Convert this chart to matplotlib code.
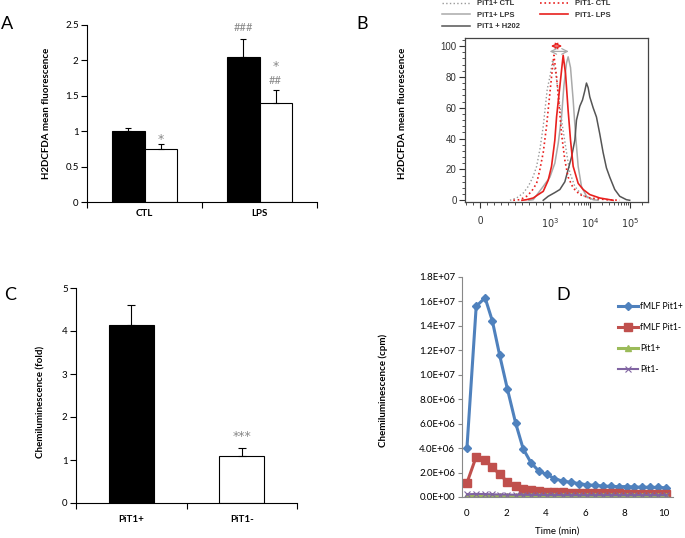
import numpy as np
import matplotlib.pyplot as plt
from matplotlib.ticker import FixedLocator, MultipleLocator, FuncFormatter

plt.rcParams['font.family'] = ['Lato', 'DejaVu Sans']

# ---- panel A: H2DCFDA mean fluorescence ----
a_groups = ['CTL', 'LPS']
a_pos = [1.0, 2.05]
a_pos_err = [0.05, 0.25]
a_neg = [0.75, 1.4]
a_neg_err = [0.07, 0.18]

# ---- panel B: flow histograms (intensity, % of max) ----
b_ctl_pos_x = [429, 524, 619, 690, 762, 810, 857, 905, 962, 1000, 1170, 1410, 1710, 2070, 2610, 3160, 4220, 6190, 10000, 17783]
b_ctl_pos_y = [0, 1.5, 4.7, 9, 15.5, 22, 33, 48, 72, 80, 91, 82, 65, 48, 31, 18, 9, 3.7, 0.9, 0]
b_lps_pos_x = [700, 762, 905, 1000, 1330, 1620, 1960, 2240, 2610, 2870, 3290, 3830, 4380, 5110, 6190, 8250, 12115, 16000]
b_lps_pos_y = [0, 0.4, 9, 15, 24, 37, 54, 74, 89, 93, 86, 65, 43, 22, 9, 2.6, 0.4, 0]
b_h2o2_x = [905, 976, 1330, 1780, 2370, 2870, 3480, 4220, 4640, 5620, 6560, 7500, 8250, 9090, 10000, 12115, 14678, 17783, 21544, 26102, 31623, 42170, 56234, 82540, 100000]
b_h2o2_y = [0, 2.6, 5, 7, 12, 20, 28, 39, 52, 61, 65, 71, 76, 73, 67, 60, 54, 43, 31, 21, 15, 7, 2.6, 0.4, 0]
b_ctl_neg_x = [476, 571, 667, 738, 810, 857, 905, 952, 990, 1100, 1260, 1470, 1710, 1960, 2370, 2870, 3830, 5620, 10000, 26102, 56234]
b_ctl_neg_y = [0, 0.4, 2.6, 5.8, 11, 20, 31, 48, 65, 80, 94, 80, 61, 43, 26, 15, 8, 3.7, 1.5, 0.4, 0]
b_lps_neg_x = [600, 667, 762, 833, 905, 976, 1100, 1330, 1470, 1780, 2150, 2470, 2870, 3290, 3830, 5110, 6810, 10000, 17783, 38312]
b_lps_neg_y = [0, 0.4, 1.5, 3.7, 5.8, 13, 22, 39, 54, 74, 94, 82, 58, 39, 22, 11, 7, 3.7, 1.5, 0]

# ---- panel C: chemiluminescence fold ----
c_groups = ['PiT1+', 'PiT1-']
c_vals = [4.15, 1.1]
c_err = [0.45, 0.18]

# ---- panel D: chemiluminescence kinetics (cpm, millions) ----
d_time = [0, 0.47, 0.92, 1.29, 1.66, 2.05, 2.47, 2.85, 3.25, 3.66, 4.05, 4.44, 4.85,
          5.27, 5.68, 6.07, 6.49, 6.88, 7.29, 7.69, 8.10, 8.49, 8.90, 9.29, 9.71, 10.10]
d_fmlf_pos = [4.0, 15.6, 16.3, 14.4, 11.6, 8.85, 6.05, 3.95, 2.8, 2.1, 1.85, 1.5, 1.3,
              1.2, 1.1, 1.0, 0.95, 0.9, 0.87, 0.85, 0.85, 0.82, 0.8, 0.8, 0.78, 0.75]
d_fmlf_neg = [1.15, 3.3, 3.0, 2.45, 1.85, 1.25, 0.88, 0.68, 0.55, 0.48, 0.43, 0.4, 0.38,
              0.36, 0.35, 0.33, 0.32, 0.31, 0.3, 0.29, 0.28, 0.28, 0.27, 0.26, 0.26, 0.25]
d_pos = [0.05, 0.06, 0.05, 0.05, 0.06, 0.05, 0.05, 0.05, 0.06, 0.05, 0.05, 0.05, 0.05,
         0.05, 0.05, 0.06, 0.05, 0.05, 0.05, 0.05, 0.05, 0.05, 0.05, 0.05, 0.05, 0.05]
d_neg = [0.22, 0.25, 0.24, 0.22, 0.2, 0.2, 0.18, 0.18, 0.17, 0.17, 0.16, 0.16, 0.15,
         0.15, 0.15, 0.15, 0.15, 0.15, 0.15, 0.15, 0.15, 0.15, 0.15, 0.15, 0.15, 0.15]

W, H = 685, 538
fig = plt.figure(figsize=(W / 100, H / 100), dpi=100)


def box(l, t, r, b):
    return [l / W, 1 - b / H, (r - l) / W, (b - t) / H]


def bar_style(ax, groups, pad):
    ax.spines['top'].set_visible(False)
    ax.spines['right'].set_visible(False)
    for s in ['left', 'bottom']:
        ax.spines[s].set_linewidth(0.8)
    ax.set_xlim(-0.5, 1.5)
    ax.set_xticks([0, 1])
    ax.set_xticklabels(groups, fontweight='bold')
    ax.xaxis.set_minor_locator(FixedLocator([-0.5, 0.5, 1.5]))
    ax.tick_params(axis='x', which='major', length=0, pad=pad, labelsize=7)
    ax.tick_params(axis='x', which='minor', length=4, width=0.8, direction='out')
    ax.tick_params(axis='y', length=4, width=0.8, labelsize=7, pad=2)


# ---- A ----
axA = fig.add_axes(box(87, 25, 317, 202))
x = np.arange(len(a_groups))
w = 0.28
ek = dict(lw=0.8, capthick=0.8, ecolor='black')
axA.bar(x - w / 2, a_pos, w, color='black', edgecolor='black', lw=0.8,
        yerr=[[0] * 2, a_pos_err], capsize=2.5, error_kw=ek)
axA.bar(x + w / 2, a_neg, w, color='white', edgecolor='black', lw=0.8,
        yerr=[[0] * 2, a_neg_err], capsize=2.5, error_kw=ek)
axA.set_ylim(0, 2.5)
axA.set_yticks([0, 0.5, 1, 1.5, 2, 2.5])
axA.set_yticklabels(['0', '0.5', '1', '1.5', '2', '2.5'])
bar_style(axA, a_groups, 5)
axA.set_ylabel('H2DCFDA mean fluorescence', fontsize=7, fontweight='bold')
axA.yaxis.set_label_coords(-0.157, 0.5)
for xx, yy, t in [(0.14, 0.88, '*'), (1.14, 1.91, '*')]:
    axA.text(xx, yy, t, ha='center', va='center', fontsize=9, color='#888888',
             family=['DejaVu Sans'])
for xx, yy, t in [(0.86, 2.46, '###'), (1.14, 1.71, '##')]:
    axA.text(xx, yy, t, ha='center', va='center', fontsize=8, color='#888888')

# ---- B ----
axB = fig.add_axes(box(465, 38, 648, 202))
axB.set_xscale('symlog', linthresh=1000, linscale=1.575)
axB.plot(b_ctl_pos_x, b_ctl_pos_y, ls=':', color='#999999', lw=1.0, label='PiT1+ CTL')
axB.plot(b_lps_pos_x, b_lps_pos_y, ls='-', color='#aaaaaa', lw=1.1, label='PiT1+ LPS')
axB.plot(b_h2o2_x, b_h2o2_y, ls='-', color='#555555', lw=1.1, label='PiT1 + H202')
axB.plot(b_ctl_neg_x, b_ctl_neg_y, ls=':', color='#e8201e', lw=1.2, label='PiT1- CTL')
axB.plot(b_lps_neg_x, b_lps_neg_y, ls='-', color='#e8201e', lw=1.2, label='PiT1- LPS')
axB.set_xlim(-215, 2.87e5)
axB.set_ylim(-1.1, 105.2)
axB.set_xticks([0, 1e3, 1e4, 1e5])
axB.set_xticklabels(['0', '$10^3$', '$10^4$', '$10^5$'], family=['Liberation Sans'])
minors = [-200, -100] + list(range(100, 1000, 100)) + \
    [k * 10 ** e for e in (3, 4) for k in range(2, 10)] + [2e5]
axB.xaxis.set_minor_locator(FixedLocator(minors))
axB.set_yticks(range(0, 101, 20))
axB.yaxis.set_minor_locator(MultipleLocator(4))
for lbl in axB.get_yticklabels():
    lbl.set_family(['Liberation Sans'])
axB.tick_params(which='major', length=4, width=0.8, labelsize=7, colors='#333333', pad=2)
axB.tick_params(which='minor', length=2, width=0.6, colors='#333333')
axB.tick_params(axis='x', pad=6)
for s in axB.spines.values():
    s.set_color('#444444')
    s.set_linewidth(0.9)
axB.set_ylabel('H2DCFDA mean fluorescence', fontsize=7, fontweight='bold')
axB.yaxis.set_label_coords(-0.317, 0.54)
axB.annotate('', xy=(976, 100), xytext=(2370, 100),
             arrowprops=dict(arrowstyle='<->', color='#e8201e', lw=0.9))
axB.annotate('', xy=(957, 96.5), xytext=(3480, 96.5),
             arrowprops=dict(arrowstyle='<->', color='#aaaaaa', lw=0.9))
fig.legend(*axB.get_legend_handles_labels(), loc='upper left',
           bbox_to_anchor=(442 / W, 1.0), ncol=2, frameon=False,
           prop=dict(family=['Liberation Sans'], size=5.5, weight='bold'),
           handlelength=3.6, handletextpad=1.0, columnspacing=2.6,
           labelspacing=0.55, borderpad=0, borderaxespad=0, labelcolor='#333333')

# ---- C ----
axC = fig.add_axes(box(76, 288, 297, 503))
xc = np.arange(len(c_groups))
axC.bar(xc, c_vals, 0.41, color=['black', 'white'], edgecolor='black', lw=0.8,
        yerr=[[0] * 2, c_err], capsize=3, error_kw=ek)
axC.set_ylim(0, 5)
axC.set_yticks(range(6))
bar_style(axC, c_groups, 9)
axC.set_ylabel('Chemiluminescence (fold)', fontsize=7, fontweight='bold')
axC.yaxis.set_label_coords(-0.136, 0.47)
axC.text(1, 1.55, '***', ha='center', va='center', fontsize=9, color='#888888',
         family=['DejaVu Sans'])

# ---- D ----
axD = fig.add_axes(box(462, 277, 673, 497))
axD.plot(d_time, np.array(d_fmlf_pos) * 1e6, color='#4F81BD', lw=2.2, marker='D', ms=4.5,
         label='fMLF Pit1+')
axD.plot(d_time, np.array(d_fmlf_neg) * 1e6, color='#C0504D', lw=2.2, marker='s', ms=6,
         label='fMLF Pit1-')
axD.plot(d_time, np.array(d_pos) * 1e6, color='#9BBB59', lw=2.2, marker='^', ms=4,
         label='Pit1+')
axD.plot(d_time, np.array(d_neg) * 1e6, color='#8064A2', lw=1.5, marker='x', ms=5,
         mew=0.8, label='Pit1-')
axD.set_xlim(-0.25, 10.45)
axD.set_ylim(0, 1.8e7)
axD.set_xticks(range(0, 11, 2))
axD.set_yticks(np.arange(0, 1.81e7, 2e6))
axD.yaxis.set_major_formatter(FuncFormatter(lambda v, p: f'{v:.1E}'))
axD.spines['top'].set_visible(False)
axD.spines['right'].set_visible(False)
for s in ['left', 'bottom']:
    axD.spines[s].set_color('#888888')
    axD.spines[s].set_linewidth(0.8)
axD.tick_params(axis='x', length=0, pad=9, labelsize=7)
axD.tick_params(axis='y', length=3, width=0.8, color='#888888', labelsize=7, pad=2)
axD.set_ylabel('Chemiluminescence (cpm)', fontsize=7, fontweight='bold')
axD.yaxis.set_label_coords(-0.35, 0.486)
axD.set_xlabel('Time (min)', fontsize=7)
axD.xaxis.set_label_coords(0.45, -0.136)
axD.legend(loc='upper left', bbox_to_anchor=(618 / W, 1 - 302 / H),
           bbox_transform=fig.transFigure, frameon=False, fontsize=6.2,
           handlelength=2.3, handletextpad=0.3, labelspacing=1.4,
           borderpad=0, borderaxespad=0)

# panel letters
for t, px, py in [('A', 7, 24), ('B', 362, 24), ('C', 10, 295), ('D', 563, 295)]:
    fig.text(px / W, 1 - py / H, t, ha='center', va='center', fontsize=13)

fig.savefig('out.png', dpi=100)
